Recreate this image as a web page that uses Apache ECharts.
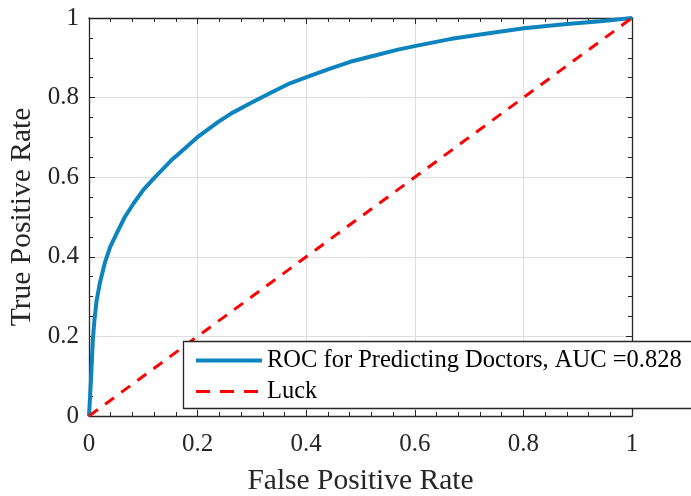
<!DOCTYPE html>
<html>
<head>
<meta charset="utf-8">
<script src="https://cdn.jsdelivr.net/npm/echarts@6/dist/echarts.min.js"></script>
<style>html,body{margin:0;padding:0;background:#fff;overflow:hidden;}#c{width:691px;height:496px;}</style>
</head>
<body>
<div id="c"></div>
<script>
const fpr = [0, 0.002, 0.004, 0.007, 0.010, 0.014, 0.020, 0.029, 0.039, 0.051, 0.066, 0.082, 0.100, 0.122, 0.152, 0.177, 0.201, 0.238, 0.263, 0.297, 0.333, 0.370, 0.402, 0.444, 0.481, 0.530, 0.567, 0.602, 0.665, 0.727, 0.801, 0.880, 0.942, 1.0];
const tpr = [0, 0.050, 0.100, 0.190, 0.241, 0.290, 0.334, 0.384, 0.425, 0.459, 0.500, 0.534, 0.568, 0.601, 0.643, 0.673, 0.702, 0.739, 0.761, 0.786, 0.811, 0.836, 0.852, 0.873, 0.890, 0.907, 0.920, 0.930, 0.947, 0.960, 0.974, 0.985, 0.992, 1.0];
const luckX = [0, 1];
const luckY = [0, 1];
const xTickLabels = ['0', '0.2', '0.4', '0.6', '0.8', '1'];
const yTickLabels = ['0', '0.2', '0.4', '0.6', '0.8', '1'];
const rocName = 'ROC for Predicting Doctors, AUC =0.828';
const luckName = 'Luck';

const FONT = 'Liberation Serif';
const AX = '#262626';
const BLUE = '#0e84bf';
const RED = '#ff0000';
const chart = echarts.init(document.getElementById('c'), null, {renderer: 'canvas'});

function baseAxis(extra) {
  return Object.assign({
    type: 'value', min: 0, max: 1, interval: 0.2,
    axisLine: {show: true, onZero: false, lineStyle: {color: AX, width: 1.3}},
    axisTick: {show: true, inside: true, length: 6, lineStyle: {color: AX, width: 1}},
    minorTick: {show: true, length: 4, lineStyle: {color: AX, width: 1}},
    splitLine: {show: false},
    axisLabel: {show: false}
  }, extra);
}

const option = {
  animation: false,
  backgroundColor: '#fff',
  grid: {left: 89, right: 59, top: 18, bottom: 80, containLabel: false, outerBoundsMode: 'none'},
  xAxis: [
    baseAxis({
      position: 'bottom',
      minorTick: {show: true, splitNumber: 5, length: 4, lineStyle: {color: AX, width: 1}},
      splitLine: {show: true, lineStyle: {color: '#dedede', width: 1}},
      axisLabel: {show: true, margin: 16, color: AX, fontFamily: FONT, fontSize: 25,
        formatter: v => xTickLabels[Math.round(v / 0.2)]},
      name: 'False Positive Rate', nameLocation: 'middle', nameGap: 50,
      nameTextStyle: {color: AX, fontFamily: FONT, fontSize: 29.5}
    }),
    baseAxis({
      position: 'top',
      minorTick: {show: true, splitNumber: 5, length: 4, lineStyle: {color: AX, width: 1}}
    })
  ],
  yAxis: [
    baseAxis({
      position: 'left',
      minorTick: {show: true, splitNumber: 4, length: 4, lineStyle: {color: AX, width: 1}},
      splitLine: {show: true, lineStyle: {color: '#dedede', width: 1}},
      axisLabel: {show: true, margin: 10, color: AX, fontFamily: FONT, fontSize: 25,
        formatter: v => yTickLabels[Math.round(v / 0.2)]},
      name: 'True Positive Rate', nameLocation: 'middle', nameGap: 47,
      nameTextStyle: {color: AX, fontFamily: FONT, fontSize: 29.5}
    }),
    baseAxis({
      position: 'right',
      minorTick: {show: true, splitNumber: 4, length: 4, lineStyle: {color: AX, width: 1}}
    })
  ],
  graphic: {
    elements: [{
      type: 'rect', z: 5, silent: true,
      shape: {x: 183.5, y: 341.5, width: 700, height: 67},
      style: {fill: '#fff', stroke: AX, lineWidth: 1.3}
    }]
  },
  legend: {
    show: true,
    left: 183, top: 341, z: 6,
    orient: 'vertical',
    padding: [7, 2, 5, 11],
    itemWidth: 66, itemHeight: 20, itemGap: 6,
    borderWidth: 0, borderColor: 'transparent', backgroundColor: 'transparent',
    itemStyle: {opacity: 0},
    textStyle: {color: '#000', fontFamily: FONT, fontSize: 24.5},
    data: [
      {name: rocName, lineStyle: {width: 4, color: BLUE}},
      {name: luckName, lineStyle: {width: 3, color: RED, type: [14, 10]}}
    ]
  },
  series: [
    {
      name: rocName, type: 'line', xAxisIndex: 0, yAxisIndex: 0,
      data: fpr.map((x, i) => [x, tpr[i]]),
      symbol: 'none', smooth: false,
      lineStyle: {color: BLUE, width: 4},
      itemStyle: {color: BLUE},
      z: 2
    },
    {
      name: luckName, type: 'line', xAxisIndex: 0, yAxisIndex: 0,
      data: luckX.map((x, i) => [x, luckY[i]]),
      symbol: 'none',
      lineStyle: {color: RED, width: 3, type: [11, 9]},
      itemStyle: {color: RED},
      z: 3
    }
  ]
};
chart.setOption(option);
</script>
</body>
</html>
